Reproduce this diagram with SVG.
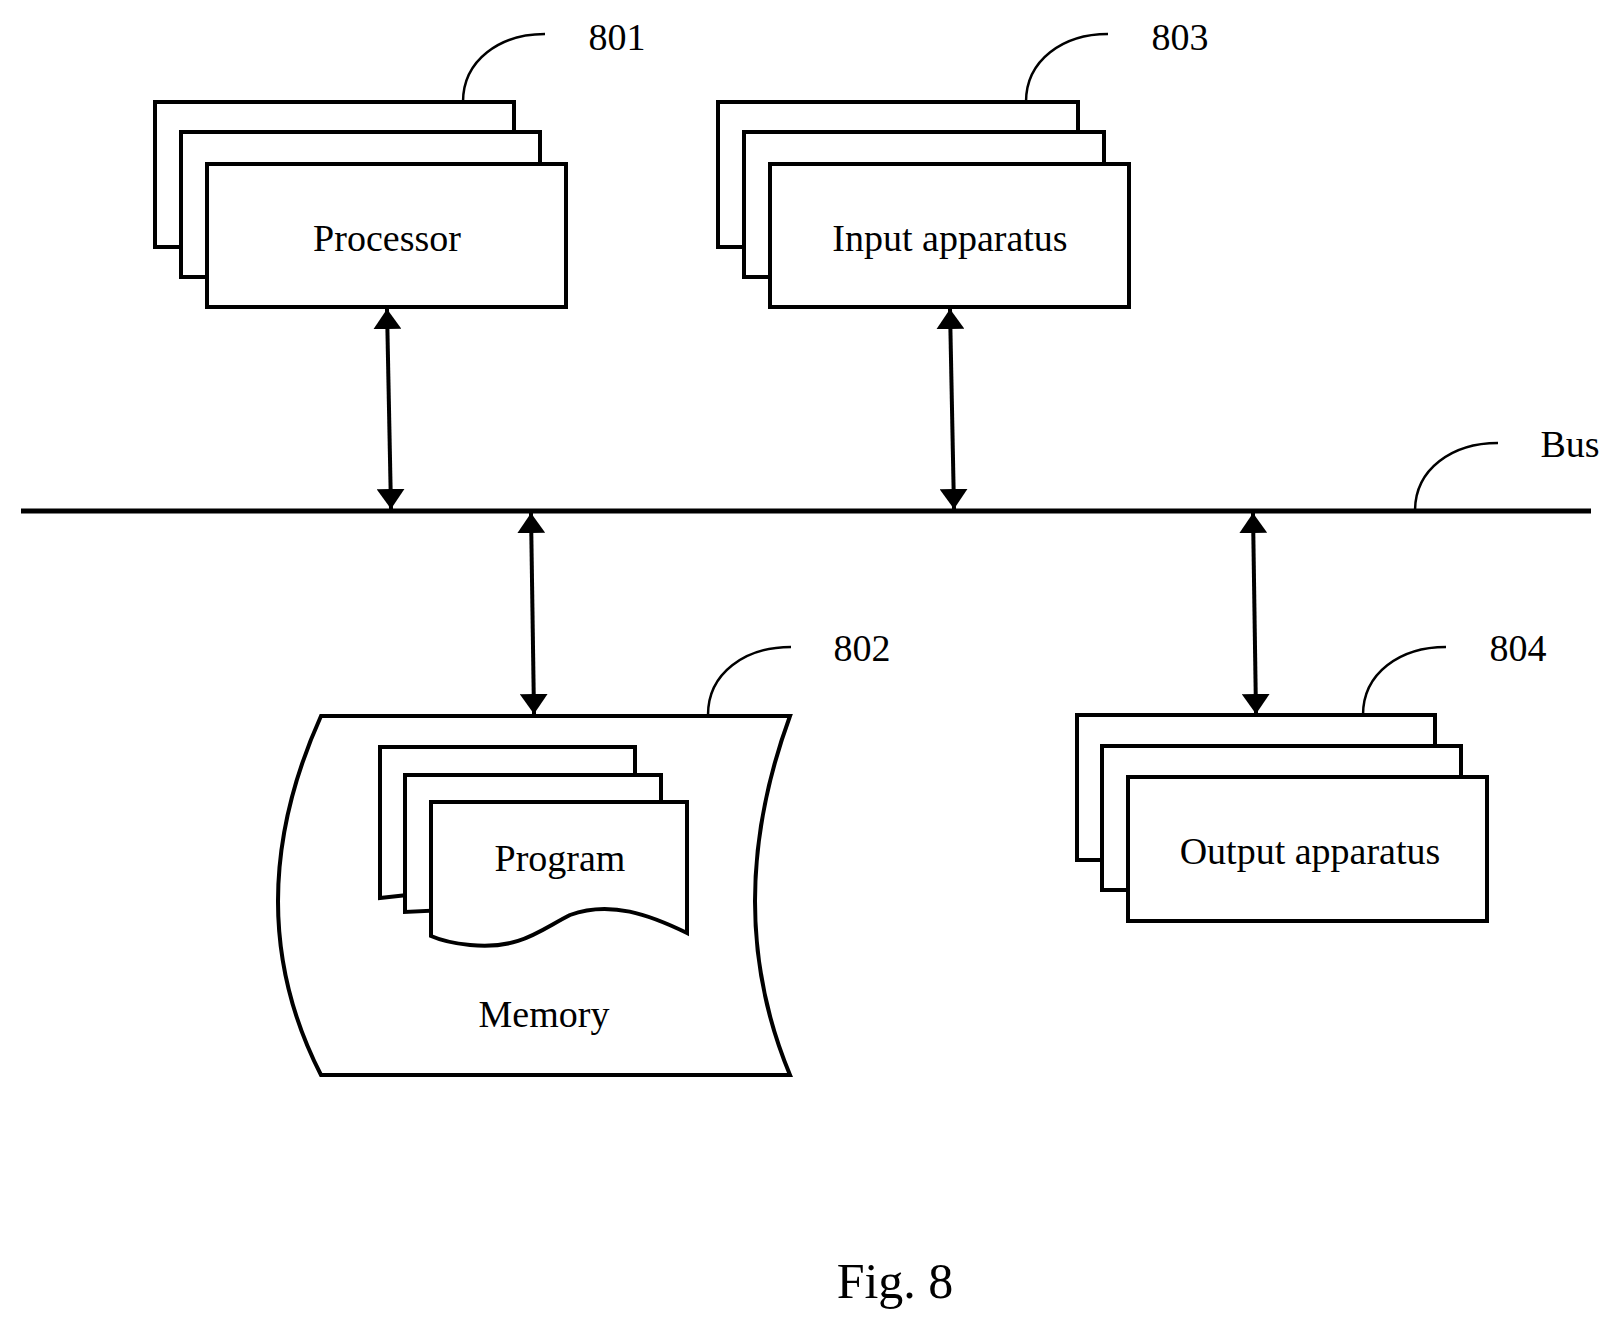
<svg xmlns="http://www.w3.org/2000/svg" width="1615" height="1325" viewBox="0 0 1615 1325">
<style>
.s{fill:#fff;stroke:#000;stroke-width:4}
.l{fill:none;stroke:#000;stroke-width:2.5}
.c{fill:none;stroke:#000;stroke-width:4}
text{font-family:"Liberation Serif",serif;font-size:38px;fill:#000;text-anchor:middle}
</style>
<defs>
<marker id="a" viewBox="0 0 10 10" refX="10" refY="5" markerWidth="5" markerHeight="7" markerUnits="strokeWidth" orient="auto-start-reverse" preserveAspectRatio="none"><path d="M0,0L10,5L0,10z" fill="#000"/></marker>
</defs>
<g id="processor">
<rect class="s" x="155" y="102" width="359" height="145"/>
<rect class="s" x="181" y="132" width="359" height="145"/>
<rect class="s" x="207" y="164" width="359" height="143"/>
<text x="387" y="251">Processor</text>
<path class="l" d="M463,102 C463,60 500,34 545,34"/>
<text x="617" y="50">801</text>
</g>
<g id="input">
<rect class="s" x="718" y="102" width="360" height="145"/>
<rect class="s" x="744" y="132" width="360" height="145"/>
<rect class="s" x="770" y="164" width="359" height="143"/>
<text x="950" y="251">Input apparatus</text>
<path class="l" d="M1026,102 C1026,60 1063,34 1108,34"/>
<text x="1180" y="50">803</text>
</g>
<g id="memory">
<path class="s" d="M321,716 L790,716 Q720,907 790,1075 L321,1075 Q235,907 321,716 Z"/>
<path class="s" d="M380,747 L635,747 L635,870 L380,898 Z"/>
<path class="s" d="M405,775 L661,775 L661,900 L405,912 Z"/>
<path class="s" d="M431,802 L687,802 L687,933 C650,915 610,900 570,915 C540,930 520,950 470,945 C450,943 440,940 431,936 Z"/>
<text x="560" y="871">Program</text>
<text x="544" y="1027">Memory</text>
<path class="l" d="M708,715 C708,673 745,647 791,647"/>
<text x="862" y="661">802</text>
</g>
<g id="output">
<rect class="s" x="1077" y="715" width="358" height="145"/>
<rect class="s" x="1102" y="746" width="359" height="144"/>
<rect class="s" x="1128" y="777" width="359" height="144"/>
<text x="1310" y="864">Output apparatus</text>
<path class="l" d="M1363,715 C1363,673 1400,647 1446,647"/>
<text x="1518" y="661">804</text>
</g>
<g id="bus">
<line x1="21" y1="511" x2="1591" y2="511" stroke="#000" stroke-width="5"/>
<path class="l" d="M1415,511 C1415,469 1452,443 1498,443"/>
<text x="1570" y="457">Bus</text>
</g>
<g id="connectors">
<line class="c" x1="387" y1="309" x2="391" y2="509" marker-start="url(#a)" marker-end="url(#a)"/>
<line class="c" x1="950" y1="309" x2="954" y2="509" marker-start="url(#a)" marker-end="url(#a)"/>
<line class="c" x1="531" y1="513" x2="534" y2="714" marker-start="url(#a)" marker-end="url(#a)"/>
<line class="c" x1="1253" y1="513" x2="1256" y2="714" marker-start="url(#a)" marker-end="url(#a)"/>
</g>
<text x="895" y="1298" style="font-size:50px">Fig. 8</text>
</svg>
